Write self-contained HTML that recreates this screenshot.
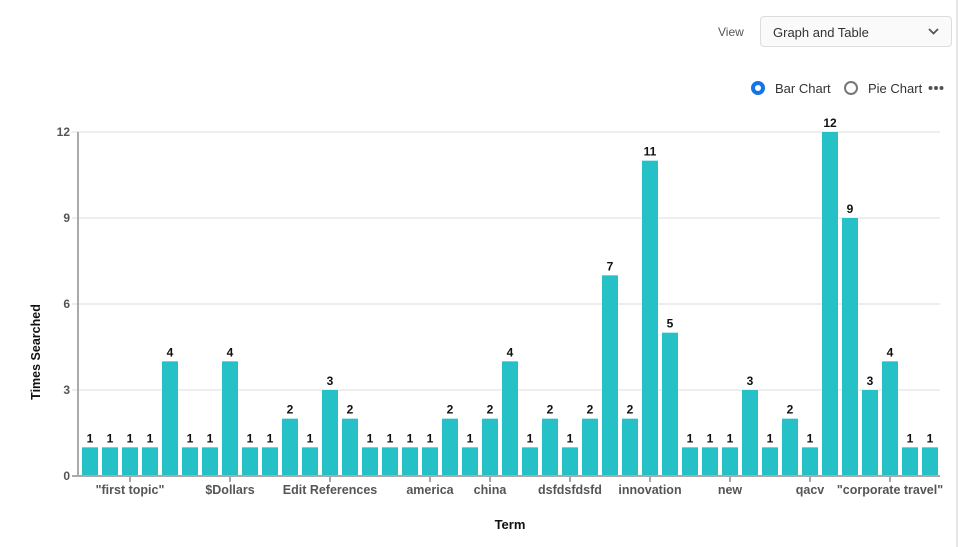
<!DOCTYPE html>
<html><head><meta charset="utf-8"><style>
body{margin:0;width:964px;height:547px;background:#fff;font-family:"Liberation Sans",sans-serif;overflow:hidden;position:relative}
.view{position:absolute;left:718px;top:25px;font-size:12px;color:#555}
.sel{position:absolute;left:760px;top:16px;width:192px;height:31px;border:1px solid #ddd;border-radius:4px;background:#fafafa;box-sizing:border-box;font-size:13px;color:#333;padding:8px 12px}
.sel svg{position:absolute;right:12px;top:11px}
.radio{position:absolute;top:81px;width:14px;height:14px;border-radius:50%;box-sizing:border-box}
.rl{position:absolute;top:81px;font-size:13px;color:#333}
.edge{position:absolute;left:956px;top:0;width:2px;height:547px;background:#e6e6e6}
</style></head><body>
<div class="edge"></div>
<div class="view">View</div>
<div class="sel">Graph and Table<svg width="11" height="7"><polyline points="1,1 5.5,5.5 10,1" fill="none" stroke="#555" stroke-width="1.8"/></svg></div>
<div class="radio" style="left:751px;border:4px solid #1473e6;background:#fff"></div>
<div class="rl" style="left:775px">Bar Chart</div>
<div class="radio" style="left:844px;border:2px solid #777"></div>
<div class="rl" style="left:868px">Pie Chart</div>
<svg style="position:absolute;left:928px;top:85px" width="16" height="6"><circle cx="2.5" cy="3" r="2" fill="#555"/><circle cx="8" cy="3" r="2" fill="#555"/><circle cx="13.5" cy="3" r="2" fill="#555"/></svg>
<svg id="chart" width="964" height="547" style="position:absolute;left:0;top:0"></svg>
<script>
const values=[1,1,1,1,4,1,1,4,1,1,2,1,3,2,1,1,1,1,2,1,2,4,1,2,1,2,7,2,11,5,1,1,1,3,1,2,1,12,9,3,4,1,1];
const labels=[];for(let i=0;i<values.length;i++)labels.push("");
labels[2]='"first topic"';labels[7]='$Dollars';labels[12]='Edit References';labels[17]='america';labels[20]='china';labels[24]='dsfdsfdsfd';labels[28]='innovation';labels[32]='new';labels[36]='qacv';labels[40]='"corporate travel"';
const yTicks=[0,3,6,9,12];
const NS="http://www.w3.org/2000/svg",svg=document.getElementById('chart');
const L=80,R=940,T=132,B=476,yMax=12;
const bw=(R-L)/values.length;
const x=i=>L+i*bw, y=v=>B-(v/yMax)*(B-T);
function mk(t,a,txt){const e=document.createElementNS(NS,t);for(const k in a)e.setAttribute(k,a[k]);if(txt!==undefined)e.textContent=txt;svg.appendChild(e);return e;}
yTicks.forEach(t=>{
 const g=mk('line',{x1:72,x2:R,y1:y(t),y2:y(t),stroke:t===0?'#aaa':'#ddd','stroke-width':t===0?2:1});
 
 
 const tx=mk('text',{x:70,y:y(t)+4,'text-anchor':'end','font-size':12,'font-weight':'bold',fill:'#555'},t);
 
 
});
const ax=mk('line',{x1:78,x2:78,y1:T,y2:B+1,stroke:'#aaa','stroke-width':2});


values.forEach((v,i)=>{
 const r=mk('rect',{x:x(i)+2,y:y(v),width:bw-4,height:B-y(v)-1,fill:'#26c0c7'});
 
 
 const t=mk('text',{x:x(i)+bw/2,y:y(v)-5,'text-anchor':'middle','font-size':12,'font-weight':'bold',fill:'#111'},v);
 
 
 if(labels[i]){
  const tk=mk('line',{x1:x(i)+bw/2,x2:x(i)+bw/2,y1:B,y2:B+6,stroke:'#aaa','stroke-width':2});
  
  
  const lb=mk('text',{x:x(i)+bw/2,y:B+18,'text-anchor':'middle','font-size':12.5,'font-weight':'bold',fill:'#555'},labels[i]);
  
  
 }
});
const xt=mk('text',{x:510,y:529,'text-anchor':'middle','font-size':13,'font-weight':'bold',fill:'#111'},'Term');


const yt=mk('text',{x:0,y:0,'text-anchor':'middle','font-size':12.5,'font-weight':'bold',fill:'#111',transform:'translate(40,352) rotate(-90)'},'Times Searched');


</script>
</body></html>
